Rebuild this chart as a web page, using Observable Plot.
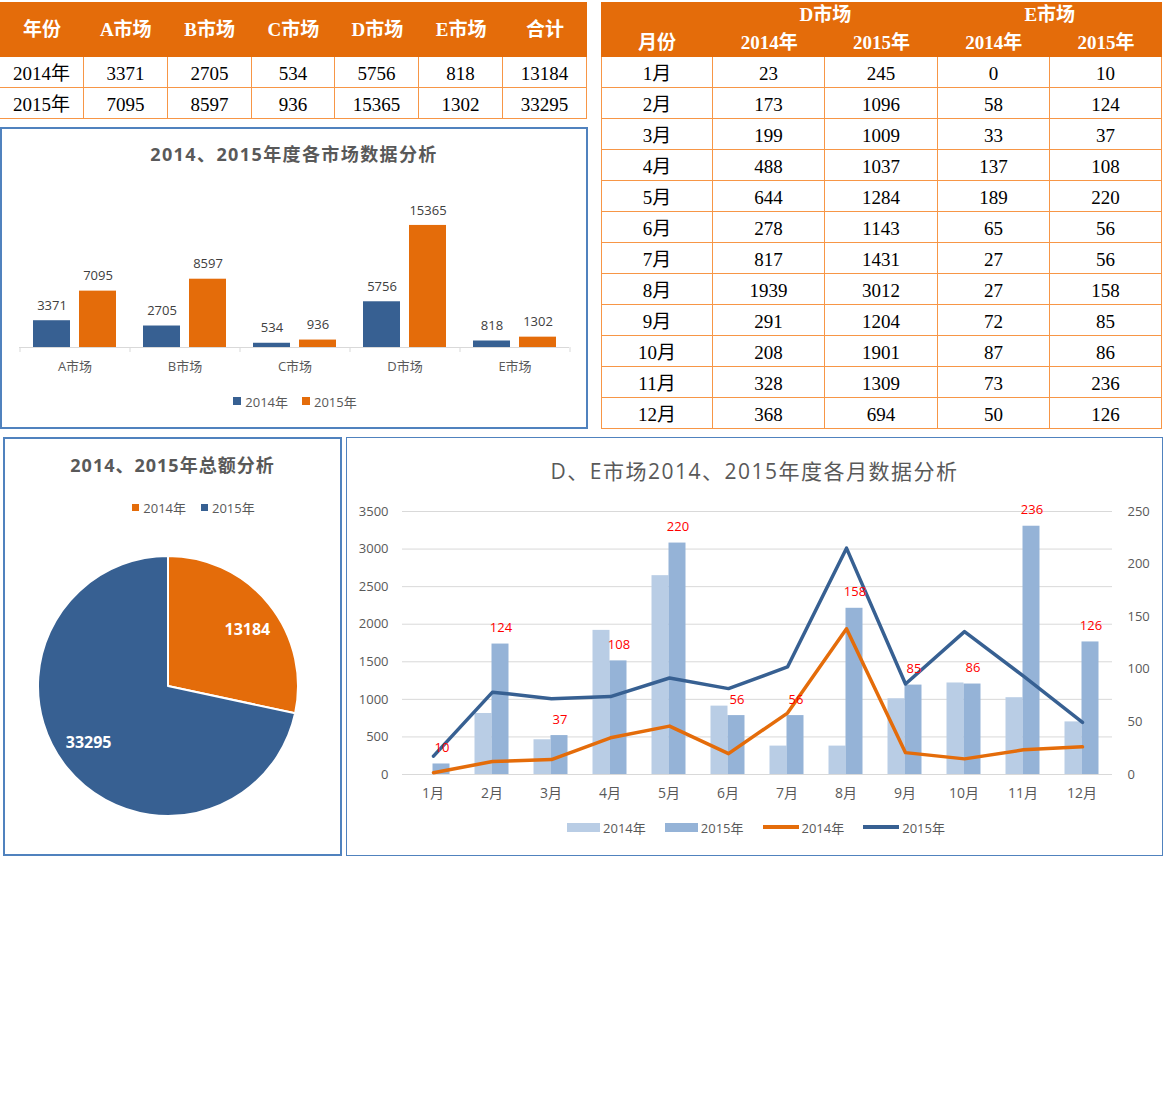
<!DOCTYPE html>
<html lang="zh-CN">
<head>
<meta charset="utf-8">
<title>市场数据分析</title>
<script src="https://cdn.jsdelivr.net/npm/d3@7"></script>
<script src="https://cdn.jsdelivr.net/npm/@observablehq/plot@0.6"></script>
<style>
  html,body{margin:0;padding:0;background:#fff;}
  #page{position:relative;width:1163px;height:1098px;overflow:hidden;background:#fff;}
  .cell{position:absolute;box-sizing:border-box;text-align:center;white-space:nowrap;font-family:"Liberation Serif","Noto Sans CJK SC",serif;font-size:19px;color:#000;}
  .head{color:#fff;font-weight:bold;}
  .body{border-right:1px solid #F79646;border-bottom:1px solid #F79646;}
  .panel{position:absolute;box-sizing:border-box;border:2px solid #5082BE;}
  .ctitle{position:absolute;text-align:center;color:#595959;font-family:"Open Sans","Noto Sans CJK SC",sans-serif;white-space:nowrap;height:30px;line-height:30px;}
  .legend{position:absolute;display:flex;align-items:center;justify-content:center;font-family:"Open Sans","Noto Sans CJK SC",sans-serif;font-size:13px;color:#595959;white-space:nowrap;height:20px;}
  .item{display:flex;align-items:center;}
  .sw{display:inline-block;}
  svg.layer{position:absolute;}
</style>
</head>
<body>
<div id="page"></div>
<script>
// ---------------- data ----------------
const years = ["2014年", "2015年"];
const markets = ["A市场", "B市场", "C市场", "D市场", "E市场"];
const market2014 = [3371, 2705, 534, 5756, 818];
const market2015 = [7095, 8597, 936, 15365, 1302];
const yearTotals = [13184, 33295];
const months = ["1月","2月","3月","4月","5月","6月","7月","8月","9月","10月","11月","12月"];
const d2014 = [23, 173, 199, 488, 644, 278, 817, 1939, 291, 208, 328, 368];
const d2015 = [245, 1096, 1009, 1037, 1284, 1143, 1431, 3012, 1204, 1901, 1309, 694];
const e2014 = [0, 58, 33, 137, 189, 65, 27, 27, 72, 87, 73, 50];
const e2015 = [10, 124, 37, 108, 220, 56, 56, 158, 85, 86, 236, 126];
const leftTicks = [0, 500, 1000, 1500, 2000, 2500, 3000, 3500];
const rightTicks = [0, 50, 100, 150, 200, 250];
const headerYear = "年份", headerTotal = "合计", headerMonth = "月份";
const titleBar = "2014、2015年度各市场数据分析";
const titlePie = "2014、2015年总额分析";
const titleCombo = "D、E市场2014、2015年度各月数据分析";

// ---------------- styles ----------------
const ORANGE = "#E46C0A", BLUE = "#376092", LIGHT = "#B9CDE5", MID = "#95B3D7";
const chartFont = '"Open Sans","Noto Sans CJK SC",sans-serif';
const svgStyle = {background: "transparent", fontFamily: chartFont, fontSize: "13px", color: "#595959", overflow: "visible"};

const page = document.getElementById("page");
function el(cls, styles, text) {
  const e = document.createElement("div");
  if (cls) e.className = cls;
  Object.assign(e.style, styles);
  if (text != null) e.textContent = text;
  page.appendChild(e);
  return e;
}
function place(svg, left, top) {
  svg.classList.add("layer");
  svg.style.left = left + "px";
  svg.style.top = top + "px";
  page.appendChild(svg);
}

// ---------------- left table ----------------
{
  const x0 = 0, colW = 587 / 7, headTop = 2, headH = 54, bodyTop = 57, rowH = 31;
  el("", {position: "absolute", left: x0 + "px", top: headTop + "px", width: "587px", height: (bodyTop - headTop) + "px", background: ORANGE});
  const heads = [headerYear, ...markets, headerTotal];
  heads.forEach((h, j) => el("cell head", {left: (x0 + j * colW) + "px", top: (headTop + 1) + "px", width: colW + "px", height: headH + "px", lineHeight: headH + "px"}, h));
  const rows = [[years[0], ...market2014, yearTotals[0]], [years[1], ...market2015, yearTotals[1]]];
  rows.forEach((r, i) => r.forEach((v, j) => {
    const l = x0 + j * colW, t = bodyTop + i * rowH;
    el("cell body", {left: Math.round(l) + "px", top: t + "px", width: (Math.round(l + colW) - Math.round(l)) + "px", height: rowH + "px", lineHeight: (rowH + 3) + "px"}, String(v));
  }));
}

// ---------------- right table ----------------
{
  const x0 = 601, colW = 561 / 5, headTop = 2, bodyTop = 57, rowH = 31;
  el("", {position: "absolute", left: x0 + "px", top: headTop + "px", width: "561px", height: (bodyTop - headTop) + "px", background: ORANGE});
  el("cell head", {left: (x0 + colW) + "px", top: "2px", width: (2 * colW) + "px", height: "26px", lineHeight: "26px"}, "D市场");
  el("cell head", {left: (x0 + 3 * colW) + "px", top: "2px", width: (2 * colW) + "px", height: "26px", lineHeight: "26px"}, "E市场");
  [headerMonth, years[0], years[1], years[0], years[1]].forEach((h, j) =>
    el("cell head", {left: (x0 + j * colW) + "px", top: "28px", width: colW + "px", height: "29px", lineHeight: "30px"}, h));
  months.forEach((m, i) => {
    const r = [m, d2014[i], d2015[i], e2014[i], e2015[i]];
    r.forEach((v, j) => {
      const l = x0 + j * colW, t = bodyTop + i * rowH;
      const c = el("cell body", {left: Math.round(l) + "px", top: t + "px", width: (Math.round(l + colW) - Math.round(l)) + "px", height: rowH + "px", lineHeight: (rowH + 3) + "px"}, String(v));
      if (j === 0) c.style.borderLeft = "1px solid #F79646";
    });
  });
}

// ---------------- bar chart (markets) ----------------
{
  el("panel", {left: "0px", top: "127px", width: "588px", height: "302px"});
  el("ctitle", {left: "0px", top: "139px", width: "588px", fontSize: "18px", fontWeight: "bold", letterSpacing: "1.4px"}, titleBar);
  const rows = markets.flatMap((m, i) => [
    {market: m, year: years[0], value: market2014[i]},
    {market: m, year: years[1], value: market2015[i]}
  ]);
  const r14 = rows.filter(d => d.year === years[0]);
  const r15 = rows.filter(d => d.year === years[1]);
  const svg = Plot.plot({
    width: 588, height: 302, marginLeft: 19, marginRight: 19, marginTop: 77, marginBottom: 82,
    style: svgStyle,
    x: {type: "band", domain: markets, paddingInner: 0.664, paddingOuter: 0.332, label: null},
    y: {domain: [0, 18000], axis: null},
    color: {domain: years, range: [BLUE, ORANGE]},
    marks: [
      Plot.ruleY([0], {stroke: "#d9d9d9"}),
      Plot.axisX({tickSize: 5, tickFormat: () => "", dx: -55, stroke: "#d9d9d9", label: null}),
      Plot.axisX([markets[markets.length - 1]], {tickSize: 5, tickFormat: () => "", dx: 55, stroke: "#d9d9d9", label: null}),
      Plot.axisX({tickSize: 0, tickPadding: 14, fontSize: 13, label: null}),
      Plot.barY(r14, {x: "market", y: "value", fill: "year", dx: -23}),
      Plot.barY(r15, {x: "market", y: "value", fill: "year", dx: 23}),
      Plot.text(r14, {x: "market", y: "value", text: d => String(d.value), dx: -23, dy: -15, fill: "#404040", fontSize: 13}),
      Plot.text(r15, {x: "market", y: "value", text: d => String(d.value), dx: 23, dy: -15, fill: "#404040", fontSize: 13})
    ]
  });
  place(svg, 0, 127);
  const lg = el("legend", {left: "0px", top: "391px", width: "590px", gap: "14px"});
  years.forEach((y, i) => {
    const it = document.createElement("div"); it.className = "item";
    it.innerHTML = `<span class="sw" style="width:8px;height:8px;background:${i === 0 ? BLUE : ORANGE};margin-right:4px"></span><span>${y}</span>`;
    lg.appendChild(it);
  });
}

// ---------------- pie chart ----------------
{
  el("panel", {left: "3px", top: "437px", width: "339px", height: "419px"});
  el("ctitle", {left: "3px", top: "450px", width: "339px", fontSize: "18px", fontWeight: "bold", letterSpacing: "1px"}, titlePie);
  const pieRows = years.map((y, i) => ({year: y, value: yearTotals[i]}));
  const pieColor = Plot.scale({color: {type: "ordinal", domain: years, range: [ORANGE, BLUE]}});
  function pieMark(index, scales, values, dims) {
    const w = dims.width - dims.marginLeft - dims.marginRight;
    const h = dims.height - dims.marginTop - dims.marginBottom;
    const cx = dims.marginLeft + w / 2, cy = dims.marginTop + h / 2, r = Math.min(w, h) / 2;
    const arcs = d3.pie().sort(null).value(d => d.value)(pieRows);
    const arc = d3.arc().innerRadius(0).outerRadius(r);
    const lab = d3.arc().innerRadius(r * 0.75).outerRadius(r * 0.75);
    const g = d3.create("svg:g").attr("transform", `translate(${cx},${cy})`);
    g.selectAll("path").data(arcs).join("path")
      .attr("d", arc).attr("fill", d => pieColor.apply(d.data.year))
      .attr("stroke", "#fff").attr("stroke-width", 2).attr("stroke-linejoin", "round");
    g.selectAll("text").data(arcs).join("text")
      .attr("transform", d => `translate(${lab.centroid({...d, startAngle: d.startAngle + 0.06, endAngle: d.endAngle + 0.06})})`)
      .attr("text-anchor", "middle").attr("dy", "0.35em")
      .attr("fill", "#fff").attr("font-weight", "bold").attr("font-size", 16)
      .text(d => String(d.data.value));
    return g.node();
  }
  const svg = Plot.plot({
    width: 339, height: 419, marginLeft: 35, marginRight: 44, marginTop: 119, marginBottom: 40,
    style: svgStyle,
    marks: [pieMark]
  });
  place(svg, 3, 437);
  const lg = el("legend", {left: "40px", top: "497px", width: "307px", gap: "15px"});
  years.forEach((y, i) => {
    const it = document.createElement("div"); it.className = "item";
    it.innerHTML = `<span class="sw" style="width:7px;height:7px;background:${pieColor.apply(y)};margin-right:4px"></span><span>${y}</span>`;
    lg.appendChild(it);
  });
}

// ---------------- combo chart (D lines, E bars) ----------------
{
  el("panel", {left: "346px", top: "437px", width: "817px", height: "419px", borderWidth: "1.5px"});
  el("ctitle", {left: "346px", top: "456px", width: "817px", fontSize: "21px", letterSpacing: "1.5px"}, titleCombo);
  const rows = months.map((m, i) => ({month: m, d2014: d2014[i], d2015: d2015[i], e2014: e2014[i], e2015: e2015[i]}));
  const dims = {width: 817, height: 418, marginLeft: 56, marginRight: 51, marginTop: 74, marginBottom: 81, style: svgStyle};
  const xPoint = {type: "point", domain: months, padding: 0.5, axis: null};
  const xBand = {type: "band", domain: months, paddingInner: 0.7127, paddingOuter: 0.35635, label: null};
  // layer 1: grid + left axis (D scale)
  place(Plot.plot({...dims, x: xPoint, y: {domain: [0, 3500], label: null},
    marks: [
      Plot.gridY(leftTicks, {stroke: "#d9d9d9", strokeOpacity: 1}),
      Plot.axisY(leftTicks, {anchor: "left", tickSize: 0, tickPadding: 14, fontSize: 13, tickFormat: d => String(d), label: null})
    ]}), 346, 437);
  // layer 2: E bars + right axis + x axis
  place(Plot.plot({...dims, x: xBand, y: {domain: [0, 250], label: null},
    marks: [
      Plot.barY(rows, {x: "month", y: "e2014", fill: LIGHT, dx: -8.5}),
      Plot.barY(rows, {x: "month", y: "e2015", fill: MID, dx: 8.5}),
      Plot.axisY(rightTicks, {anchor: "right", tickSize: 0, tickPadding: 15, fontSize: 13, tickFormat: d => String(d), label: null}),
      Plot.axisX({tickSize: 0, tickPadding: 14, fontSize: 14, label: null})
    ]}), 346, 437);
  // layer 3: D lines
  place(Plot.plot({...dims, x: xPoint, y: {domain: [0, 3500], axis: null},
    marks: [
      Plot.line(rows, {x: "month", y: "d2014", stroke: ORANGE, strokeWidth: 3.5, strokeLinejoin: "round"}),
      Plot.line(rows, {x: "month", y: "d2015", stroke: BLUE, strokeWidth: 3.5, strokeLinejoin: "round"})
    ]}), 346, 437);
  // layer 4: E 2015 labels
  place(Plot.plot({...dims, x: xPoint, y: {domain: [0, 250], axis: null},
    marks: [
      Plot.text(rows, {x: "month", y: "e2015", text: d => String(d.e2015), dx: 8.5, dy: -16, fill: "#FF0000", fontSize: 13})
    ]}), 346, 437);
  const lg = el("legend", {left: "346px", top: "817px", width: "820px", gap: "19px"});
  const items = [
    {label: years[0], sw: `width:33px;height:9px;background:${LIGHT}`},
    {label: years[1], sw: `width:33px;height:9px;background:${MID}`},
    {label: years[0], sw: `width:36px;height:4px;background:${ORANGE}`},
    {label: years[1], sw: `width:36px;height:4px;background:${BLUE}`}
  ];
  items.forEach(d => {
    const it = document.createElement("div"); it.className = "item";
    it.innerHTML = `<span class="sw" style="${d.sw};margin-right:3px"></span><span>${d.label}</span>`;
    lg.appendChild(it);
  });
}
</script>
</body>
</html>
